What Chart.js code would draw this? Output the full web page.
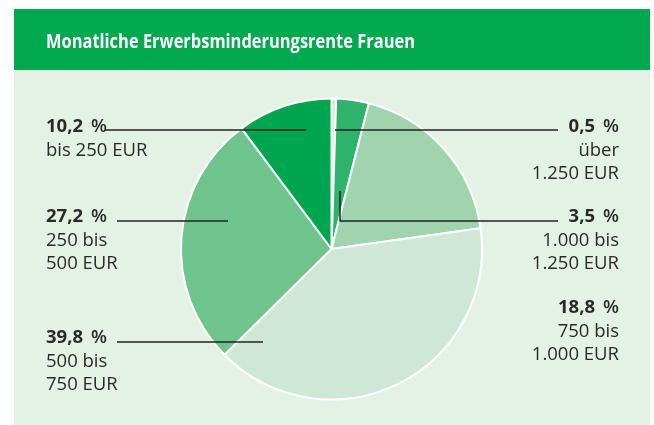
<!DOCTYPE html>
<html>
<head>
<meta charset="utf-8">
<script src="https://cdn.jsdelivr.net/npm/chart.js@4/dist/chart.umd.min.js"></script>
<style>
html,body{margin:0;padding:0;background:#fff;}
#wrap{width:654px;height:425px;position:relative;}
canvas{display:block;}
</style>
</head>
<body>
<div id="wrap"><canvas id="c" width="654" height="425"></canvas></div>
<script>
// ---- data ----
const title = "Monatliche Erwerbsminderungsrente Frauen";
const categories = [
  ["über", "1.250 EUR"],
  ["1.000 bis", "1.250 EUR"],
  ["750 bis", "1.000 EUR"],
  ["500 bis", "750 EUR"],
  ["250 bis", "500 EUR"],
  ["bis 250 EUR"]
];
const values = [0.5, 3.5, 18.8, 39.8, 27.2, 10.2];
const valueLabels = ["0,5", "3,5", "18,8", "39,8", "27,2", "10,2"];
const colors = ["#d3ead8", "#2eb36a", "#a0d4ae", "#cfe8d5", "#6fc38c", "#00a64f"];

// ---- label layout (positions only) ----
const labelLayout = [
  {align:"right", x:619, y:132, line:[[335,130],[558,130]]},
  {align:"right", x:619, y:222, line:[[340,191],[340,221],[558,221]]},
  {align:"right", x:619, y:313, line:null},
  {align:"left",  x:46,  y:343, line:[[117,342],[263,342]]},
  {align:"left",  x:46,  y:222, line:[[117,221],[228,221]]},
  {align:"left",  x:46,  y:132, line:[[105,130],[306,130]]}
];

const FONT = '"Open Sans", "Noto Sans", sans-serif';
const TXT = "#2a2a2a";

const framePlugin = {
  id: "frame",
  beforeDraw(chart) {
    const ctx = chart.ctx;
    ctx.save();
    ctx.fillStyle = "#ffffff";
    ctx.fillRect(0, 0, 654, 425);
    ctx.fillStyle = "#e4f2e6";
    ctx.fillRect(14, 70, 636, 355);
    ctx.fillStyle = "#00a84f";
    ctx.fillRect(14, 9, 636, 61);
    // title
    ctx.fillStyle = "#ffffff";
    ctx.font = "bold 19px " + FONT;
    ctx.textBaseline = "alphabetic";
    ctx.textAlign = "left";
    const w = ctx.measureText(title).width;
    const target = 369;
    ctx.translate(46, 48);
    ctx.scale(target / w, 1);
    ctx.fillText(title, 0, 0);
    ctx.restore();
  },
  afterDraw(chart) {
    const ctx = chart.ctx;
    ctx.save();
    // leader lines
    ctx.strokeStyle = "#222222";
    ctx.lineWidth = 1.5;
    labelLayout.forEach(l => {
      if (!l.line) return;
      ctx.beginPath();
      l.line.forEach((p, i) => i ? ctx.lineTo(p[0], p[1]) : ctx.moveTo(p[0], p[1]));
      ctx.stroke();
    });
    // labels
    ctx.fillStyle = TXT;
    ctx.textBaseline = "alphabetic";
    const boldF = "bold 18.5px " + FONT;
    const pctF = "600 18.5px " + FONT;
    const regF = "18.5px " + FONT;
    const gap = 8;
    labelLayout.forEach((l, i) => {
      const num = valueLabels[i];
      ctx.font = boldF;
      const nw = ctx.measureText(num).width;
      ctx.font = pctF;
      const pw = ctx.measureText("%").width;
      const total = nw + gap + pw;
      const x0 = l.align === "right" ? l.x - total : l.x;
      ctx.textAlign = "left";
      ctx.font = boldF;
      ctx.fillText(num, x0, l.y);
      ctx.font = pctF;
      ctx.fillText("%", x0 + nw + gap, l.y);
      ctx.font = regF;
      ctx.textAlign = l.align;
      categories[i].forEach((t, k) => {
        ctx.fillText(t, l.x, l.y + 24 * (k + 1) - (k ? 1 : 0));
      });
    });
    ctx.restore();
  }
};

new Chart(document.getElementById("c"), {
  type: "pie",
  data: {
    labels: categories.map(c => c.join(" ")),
    datasets: [{
      data: values,
      backgroundColor: colors,
      borderColor: "#ffffff",
      borderWidth: 2
    }]
  },
  options: {
    responsive: false,
    animation: false,
    layout: { padding: { left: 180, right: 171, top: 97, bottom: 24 } },
    plugins: { legend: { display: false }, tooltip: { enabled: false } }
  },
  plugins: [framePlugin]
});
</script>
</body>
</html>
